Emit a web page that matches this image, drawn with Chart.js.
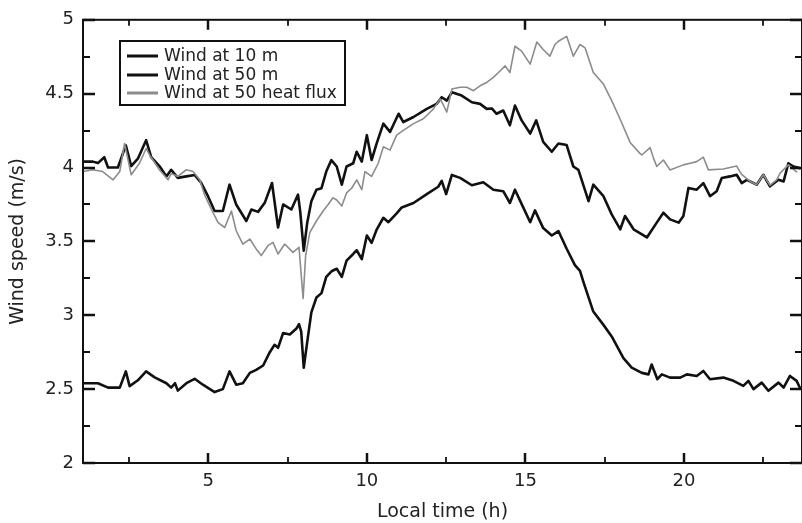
<!DOCTYPE html>
<html>
<head>
<meta charset="utf-8">
<script src="https://cdn.jsdelivr.net/npm/chart.js@4.4.1/dist/chart.umd.min.js"></script>
<style>
  html, body { margin: 0; padding: 0; background: #fff; }
  #wrap { width: 802px; height: 523px; }
</style>
</head>
<body>
<div id="wrap"><canvas id="c" width="802" height="523"></canvas></div>
<script>
// ---------- data ----------
const seriesLabels = ["Wind at 10 m", "Wind at 50 m", "Wind at 50 heat flux"];

const hours10 = [1.05,1.52,1.84,2.21,2.40,2.52,2.78,3.04,3.31,3.68,3.83,3.95,4.04,4.31,4.57,4.83,5.20,5.46,5.67,5.88,6.09,6.31,6.51,6.73,6.94,7.09,7.20,7.36,7.57,7.78,7.86,7.93,8.01,8.12,8.25,8.41,8.57,8.72,8.90,9.05,9.21,9.36,9.57,9.68,9.84,10.00,10.15,10.31,10.52,10.68,10.94,11.10,11.47,11.89,12.25,12.36,12.50,12.68,12.94,13.31,13.67,13.99,14.30,14.51,14.67,14.93,15.15,15.30,15.56,15.83,16.04,16.30,16.56,16.72,16.83,17.14,17.46,17.72,18.09,18.35,18.67,18.88,18.98,19.16,19.30,19.56,19.88,20.09,20.40,20.61,20.82,21.24,21.56,21.87,22.03,22.19,22.45,22.66,22.98,23.14,23.34,23.55,23.65];
const wind10 = [2.54,2.54,2.51,2.51,2.62,2.52,2.56,2.62,2.58,2.54,2.51,2.54,2.49,2.54,2.57,2.53,2.48,2.50,2.62,2.53,2.54,2.61,2.63,2.66,2.75,2.80,2.78,2.88,2.87,2.91,2.94,2.89,2.645,2.82,3.02,3.12,3.15,3.26,3.30,3.315,3.26,3.37,3.415,3.44,3.38,3.54,3.49,3.58,3.66,3.63,3.69,3.73,3.76,3.82,3.87,3.91,3.82,3.95,3.93,3.88,3.90,3.85,3.84,3.76,3.85,3.73,3.63,3.71,3.59,3.54,3.57,3.45,3.34,3.30,3.225,3.025,2.935,2.857,2.71,2.645,2.61,2.60,2.667,2.567,2.60,2.578,2.578,2.60,2.589,2.623,2.567,2.578,2.556,2.522,2.556,2.50,2.544,2.489,2.544,2.511,2.589,2.556,2.511];

const hours50 = [1.05,1.36,1.52,1.72,1.84,2.15,2.40,2.57,2.78,3.04,3.20,3.46,3.68,3.83,4.04,4.31,4.57,4.78,4.99,5.20,5.46,5.67,5.88,6.20,6.36,6.57,6.78,7.01,7.20,7.36,7.62,7.83,7.90,8.01,8.12,8.25,8.41,8.57,8.72,8.88,9.05,9.21,9.36,9.57,9.68,9.84,10.00,10.15,10.31,10.52,10.73,11.00,11.15,11.47,11.89,12.20,12.36,12.52,12.68,12.99,13.31,13.57,13.78,13.94,14.09,14.30,14.51,14.67,14.88,15.15,15.34,15.56,15.83,16.04,16.30,16.51,16.67,16.99,17.14,17.46,17.72,17.99,18.14,18.41,18.83,19.14,19.35,19.56,19.83,19.98,20.14,20.40,20.61,20.82,21.03,21.19,21.45,21.66,21.82,21.98,22.29,22.50,22.71,22.98,23.14,23.29,23.45,23.65];
const wind50 = [4.04,4.04,4.03,4.07,4.00,4.00,4.15,4.01,4.06,4.185,4.07,4.01,3.94,3.985,3.93,3.94,3.95,3.895,3.806,3.706,3.706,3.884,3.75,3.638,3.716,3.70,3.761,3.895,3.594,3.75,3.716,3.817,3.70,3.437,3.627,3.772,3.85,3.86,3.973,4.05,4.007,3.884,4.007,4.029,4.107,4.04,4.219,4.051,4.163,4.297,4.241,4.364,4.308,4.342,4.397,4.431,4.476,4.453,4.509,4.487,4.442,4.431,4.397,4.40,4.364,4.386,4.286,4.42,4.319,4.23,4.319,4.174,4.107,4.163,4.152,4.007,3.984,3.772,3.884,3.806,3.683,3.582,3.672,3.582,3.527,3.627,3.694,3.649,3.627,3.672,3.862,3.85,3.895,3.806,3.839,3.929,3.94,3.951,3.895,3.917,3.884,3.951,3.873,3.917,3.906,4.029,4.007,3.996];

const hoursFlux = [1.05,1.36,1.67,2.00,2.21,2.36,2.57,2.83,3.04,3.15,3.46,3.73,3.83,4.04,4.31,4.52,4.73,4.88,5.10,5.31,5.52,5.73,5.88,6.09,6.31,6.51,6.67,6.88,7.04,7.20,7.41,7.67,7.86,7.99,8.07,8.20,8.41,8.62,8.78,8.93,9.05,9.21,9.36,9.52,9.68,9.84,9.94,10.15,10.36,10.52,10.73,10.94,11.15,11.47,11.78,12.10,12.31,12.42,12.52,12.68,12.94,13.15,13.36,13.57,13.78,13.99,14.15,14.36,14.51,14.67,14.88,15.15,15.36,15.56,15.77,15.93,16.04,16.30,16.51,16.72,16.88,17.14,17.46,17.72,17.98,18.30,18.61,18.67,18.93,19.04,19.14,19.35,19.56,19.98,20.19,20.40,20.61,20.77,21.24,21.66,21.81,22.08,22.29,22.50,22.71,22.92,23.03,23.29,23.55];
const windFlux = [3.973,3.985,3.973,3.917,3.973,4.163,3.951,4.029,4.129,4.085,3.985,3.917,3.96,3.94,3.985,3.973,3.917,3.817,3.716,3.627,3.594,3.706,3.572,3.482,3.516,3.449,3.404,3.471,3.493,3.415,3.482,3.426,3.46,3.114,3.404,3.56,3.638,3.706,3.75,3.795,3.78,3.739,3.828,3.86,3.917,3.85,3.973,3.94,4.029,4.141,4.118,4.219,4.252,4.297,4.33,4.397,4.464,4.42,4.375,4.531,4.543,4.543,4.52,4.553,4.576,4.61,4.643,4.688,4.643,4.821,4.788,4.70,4.85,4.799,4.754,4.833,4.855,4.888,4.754,4.833,4.81,4.643,4.565,4.453,4.33,4.17,4.096,4.085,4.135,4.062,4.007,4.051,3.984,4.018,4.029,4.04,4.07,3.984,3.99,4.01,3.955,3.906,3.884,3.951,3.88,3.917,3.962,4.018,3.97];

const xLabelTicks = [5, 10, 15, 20];
const xMinorTicks = [2.5, 7.5, 12.5, 17.5, 22.5];
const yLabelTicks = [2, 2.5, 3, 3.5, 4, 4.5, 5];
const yMinorTicks = [2.25, 2.75, 3.25, 3.75, 4.25, 4.75];

// ---------- chart ----------
const toPts = (xs, ys) => xs.map((x, i) => ({ x: x, y: ys[i] }));
const FONT = "'DejaVu Sans', sans-serif";
const TXT = '#222';

const frameAndTicks = {
  id: 'frameAndTicks',
  afterDatasetsDraw(chart) {
    const { ctx, chartArea: a, scales: { x, y } } = chart;
    ctx.save();
    ctx.strokeStyle = '#111';
    ctx.lineWidth = 2;
    ctx.strokeRect(a.left, a.top, a.right - a.left, a.bottom - a.top);
    const vt = (v, len) => {
      const px = Math.round(x.getPixelForValue(v));
      ctx.beginPath();
      ctx.moveTo(px, a.bottom); ctx.lineTo(px, a.bottom - len);
      ctx.moveTo(px, a.top); ctx.lineTo(px, a.top + len);
      ctx.stroke();
    };
    const ht = (v, len) => {
      const py = Math.round(y.getPixelForValue(v));
      ctx.beginPath();
      ctx.moveTo(a.left, py); ctx.lineTo(a.left + len, py);
      ctx.moveTo(a.right, py); ctx.lineTo(a.right - len, py);
      ctx.stroke();
    };
    ctx.lineWidth = 2.5;
    xLabelTicks.forEach(v => vt(v, 10));
    yLabelTicks.forEach(v => ht(v, 12));
    ctx.lineWidth = 1.8;
    xMinorTicks.forEach(v => vt(v, 6));
    yMinorTicks.forEach(v => ht(v, 7));

    // legend box
    const bx = 120, by = 41, bw = 225, bh = 64;
    ctx.fillStyle = '#fff';
    ctx.fillRect(bx, by, bw, bh);
    ctx.lineWidth = 2;
    ctx.strokeStyle = '#111';
    ctx.strokeRect(bx, by, bw, bh);
    const rows = [56, 75, 93];
    chart.data.datasets.forEach((ds, i) => {
      ctx.strokeStyle = ds.borderColor;
      ctx.lineWidth = 3;
      ctx.beginPath();
      ctx.moveTo(127, rows[i]); ctx.lineTo(158, rows[i]);
      ctx.stroke();
      ctx.fillStyle = TXT;
      ctx.font = "17px " + FONT;
      ctx.textBaseline = 'middle';
      ctx.textAlign = 'left';
      ctx.fillText(ds.label, 164, rows[i] + 1);
    });
    ctx.restore();
  }
};

new Chart(document.getElementById('c'), {
  type: 'line',
  data: {
    datasets: [
      { label: seriesLabels[0], data: toPts(hours10, wind10), borderColor: '#111', borderWidth: 2.6, order: 2 },
      { label: seriesLabels[1], data: toPts(hours50, wind50), borderColor: '#111', borderWidth: 2.6, order: 2 },
      { label: seriesLabels[2], data: toPts(hoursFlux, windFlux), borderColor: '#8c8c8c', borderWidth: 1.6, order: 1 }
    ]
  },
  options: {
    responsive: false,
    animation: false,
    devicePixelRatio: 1,
    parsing: true,
    elements: {
      point: { radius: 0 },
      line: { tension: 0, borderJoinStyle: 'round', borderCapStyle: 'round' }
    },
    layout: { padding: { top: 15, right: 0, left: 0, bottom: 0 } },
    plugins: { legend: { display: false }, tooltip: { enabled: false } },
    scales: {
      x: {
        type: 'linear',
        min: 1.05, max: 23.72,
        grid: { display: false, drawTicks: false },
        border: { display: false },
        afterBuildTicks: s => { s.ticks = xLabelTicks.map(v => ({ value: v })); },
        afterFit: s => { s.height = 60; },
        ticks: { padding: 8, color: TXT, font: { family: FONT, size: 18 }, maxRotation: 0, callback: v => String(v) },
        title: { display: true, text: 'Local time (h)', color: TXT, font: { family: FONT, size: 19 }, padding: { top: 0, bottom: 0 } }
      },
      y: {
        type: 'linear',
        min: 2, max: 5,
        grid: { display: false, drawTicks: false },
        border: { display: false },
        afterBuildTicks: s => { s.ticks = yLabelTicks.map(v => ({ value: v })); },
        afterFit: s => { s.width = 83; },
        ticks: { padding: 9, color: TXT, font: { family: FONT, size: 18 }, callback: v => String(v) },
        title: { display: true, text: 'Wind speed (m/s)', color: TXT, font: { family: FONT, size: 19 }, padding: { top: 7, bottom: 0 } }
      }
    }
  },
  plugins: [frameAndTicks]
});
</script>
</body>
</html>
